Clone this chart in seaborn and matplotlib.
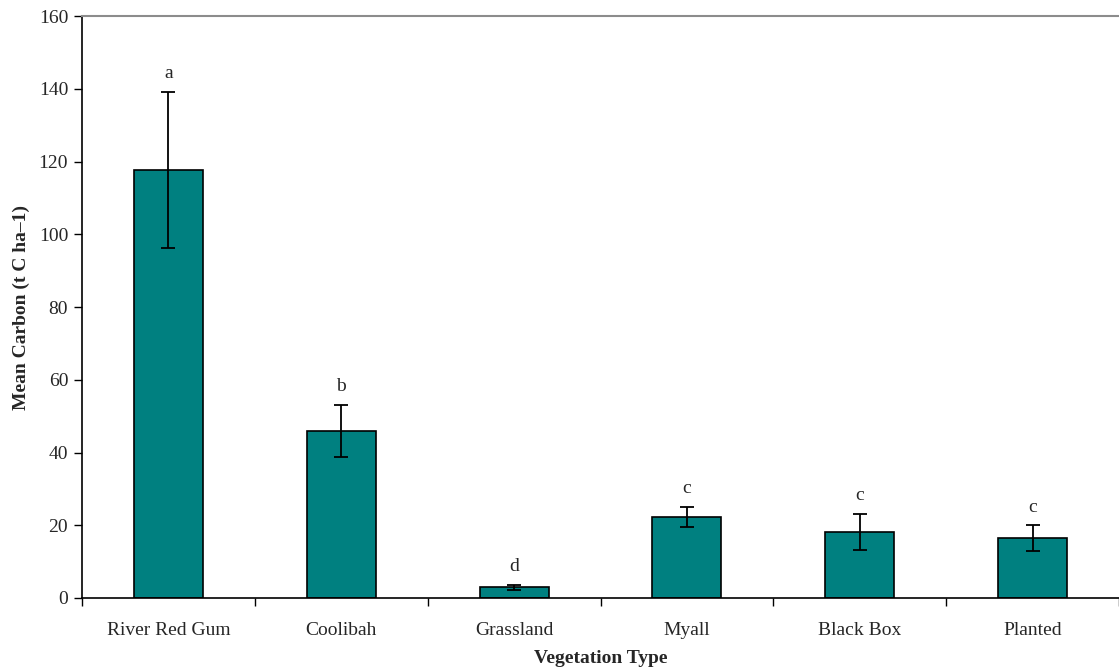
import matplotlib
matplotlib.use("Agg")
import matplotlib.pyplot as plt
import seaborn as sns
import pandas as pd

categories = ["River Red Gum", "Coolibah", "Grassland", "Myall", "Black Box", "Planted"]
mean_carbon = [117.7, 45.9, 3.0, 22.3, 18.1, 16.5]
std_error = [21.5, 7.2, 0.7, 2.8, 5.0, 3.5]
group_letters = ["a", "b", "d", "c", "c", "c"]
y_ticks = [0, 20, 40, 60, 80, 100, 120, 140, 160]

sns.set_style("white")
plt.rcParams["font.family"] = ["Liberation Serif", "DejaVu Serif"]

df = pd.DataFrame({"Vegetation": categories, "Carbon": mean_carbon})

fig = plt.figure(figsize=(11.19, 6.70), dpi=100)
ax = fig.add_axes([0.0733, 0.1075, 0.9267, 0.8685])

sns.barplot(data=df, x="Vegetation", y="Carbon", order=categories,
            color="#008080", saturation=1, width=0.4,
            edgecolor="black", linewidth=1.2, errorbar=None, ax=ax)

positions = list(range(len(categories)))
ax.errorbar(positions, mean_carbon, yerr=std_error, fmt="none",
            ecolor="black", elinewidth=1.3, capsize=5, capthick=1.3, zorder=5)

for pos, val, err, lab in zip(positions, mean_carbon, std_error, group_letters):
    ax.text(pos, val + err + 5, lab, ha="center", va="center", fontsize=14)

ax.set_xlim(-0.5, len(categories) - 0.5)
ax.set_ylim(0, 160)
ax.set_yticks(y_ticks)
ax.set_yticklabels([str(t) for t in y_ticks], fontsize=14)

# category labels without ticks; ticks sit between categories
ax.set_xticks(positions)
ax.set_xticklabels(categories, fontsize=14)
ax.tick_params(axis="x", which="major", length=0, pad=17)
ax.set_xticks([p - 0.5 for p in positions] + [len(categories) - 0.5], minor=True)
ax.tick_params(axis="x", which="minor", bottom=True, direction="out",
               length=6, width=1, color="black")
ax.tick_params(axis="y", direction="out", length=6, width=1, color="black", left=True, pad=4)

ax.set_xlabel("Vegetation Type", fontsize=14, fontweight="bold", labelpad=8)
ax.set_ylabel("Mean Carbon (t C ha\u20131)", fontsize=14, fontweight="bold", labelpad=6)

for side in ["left", "bottom"]:
    ax.spines[side].set_color("black")
    ax.spines[side].set_linewidth(1.2)
ax.spines["top"].set_color("#8c8c8c")
ax.spines["top"].set_linewidth(1.5)
ax.spines["right"].set_visible(False)

fig.savefig("out.png", dpi=100)
